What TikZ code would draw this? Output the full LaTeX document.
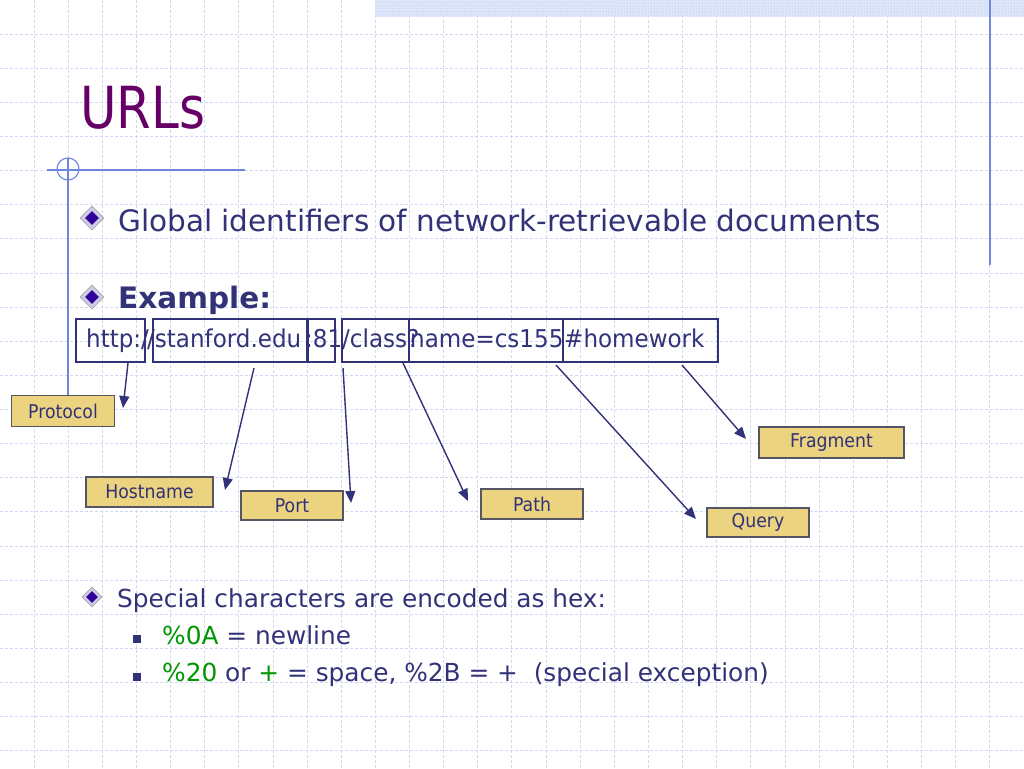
\documentclass[tikz,border=0pt]{standalone}
\usepackage{fontspec}
\setmainfont{DejaVu Sans}
\newfontfamily\titlefont{DejaVu Sans}[FakeStretch=0.86]
\newfontfamily\narrowfont{DejaVu Sans}[FakeStretch=0.91]
\newfontfamily\urlfont{DejaVu Sans}[FakeStretch=0.94]
\usetikzlibrary{arrows.meta,shapes.geometric,patterns}
\definecolor{navy}{RGB}{50,50,120}
\definecolor{ttl}{RGB}{102,0,102}
\definecolor{grn}{RGB}{0,150,0}
\definecolor{gridc}{RGB}{210,216,244}
\definecolor{deco}{RGB}{110,135,220}
\definecolor{labfill}{RGB}{235,211,128}
\definecolor{labdraw}{RGB}{85,85,100}
\definecolor{band}{RGB}{222,230,250}
\definecolor{dinner}{RGB}{51,0,153}
\definecolor{douter}{RGB}{205,205,232}
\tikzset{
  gridline/.style={gridc, line width=1pt, dash pattern=on 3pt off 2pt},
  decoline/.style={deco, line width=1.1pt},
  urlbox/.style={draw=navy, line width=1.2pt, inner sep=0pt},
  urltxt/.style={navy, anchor=base west, inner sep=0pt, font=\urlfont\fontsize{24.5}{25}\selectfont},
  lab/.style={draw=labdraw, fill=labfill, line width=1.3pt, inner sep=0pt, text=navy, font=\narrowfont\fontsize{19}{19}\selectfont},
  arr/.style={navy, line width=1.4pt, -{Triangle[length=12pt,width=10pt]}},
  bout/.style={diamond, draw=gray!70, fill=douter, line width=0.8pt, inner sep=0pt, minimum size=#1},
  bin/.style={diamond, fill=dinner, inner sep=0pt, minimum size=#1},
  sq/.style={fill=navy, inner sep=0pt, minimum size=8pt},
  body/.style={navy, anchor=base west, inner sep=0pt}
}
\begin{document}
\begin{tikzpicture}[x=1pt,y=-1pt]
\useasboundingbox (0,0) rectangle (1024,768);
\fill[white] (0,0) rectangle (1024,768);
% grid
\foreach \k in {1,...,29} \draw[gridline] ({34.13*\k},0) -- ({34.13*\k},768);
\foreach \k in {1,...,22} \draw[gridline] (0,{34.13*\k}) -- (1024,{34.13*\k});
% top band
\fill[band] (375,0) rectangle (1024,17);
\fill[pattern=dots, pattern color=deco!60] (375,0) rectangle (1024,17);
\draw[decoline] (990,0) -- (990,265);
% left decoration
\draw[decoline] (47,170) -- (245,170);
\draw[decoline] (68,169) circle[radius=11];
\draw[decoline] (68,158) -- (68,395);
% title
\node[ttl, anchor=base west, inner sep=0pt, font=\titlefont\fontsize{58}{58}\selectfont] (title) at (80,128) {URLs};
% bullets
\node[bout=24pt] (d1) at (92,218) {};
\node[bin=14pt] (d1i) at (d1) {};
\node[body, font=\fontsize{29.5}{30}\selectfont] (t1) at (118,231) {Global identifiers of network-retrievable documents};
\node[bout=24pt] (d2) at (92,297) {};
\node[bin=14pt] (d2i) at (d2) {};
\node[body, font=\fontsize{29.5}{30}\selectfont\bfseries] (t2) at (118,308) {Example:};
% URL boxes
\node[urlbox, minimum width=69pt, minimum height=43pt] (b1) at (110.5,340.5) {};
\node[urlbox, minimum width=154pt, minimum height=43pt] (b2) at (230,340.5) {};
\node[urlbox, minimum width=27pt, minimum height=43pt] (b3) at (321.5,340.5) {};
\node[urlbox, minimum width=67pt, minimum height=43pt] (b4) at (375.5,340.5) {};
\node[urlbox, minimum width=154pt, minimum height=43pt] (b5) at (486,340.5) {};
\node[urlbox, minimum width=155pt, minimum height=43pt] (b6) at (640.5,340.5) {};
% URL text
\node[urltxt] (u1) at (86,347) {http:/};
\node[urltxt] (u2) at (147,347) {/stanford.edu};
\node[urltxt] (u3) at (305,347) {:81};
\node[urltxt] (u4) at (342,347) {/class?};
\node[urltxt] (u5) at (410,347) {name=cs155};
\node[urltxt] (u6) at (564,347) {\#homework};
% labels
\node[lab, minimum width=103pt, minimum height=31pt] (protocol) at (63,411) {Protocol};
\node[lab, minimum width=127pt, minimum height=30pt] (hostname) at (149.5,492) {Hostname};
\node[lab, minimum width=102pt, minimum height=29pt] (port) at (292,505.5) {Port};
\node[lab, minimum width=102pt, minimum height=30pt] (path) at (532,504) {Path};
\node[lab, minimum width=102pt, minimum height=29pt] (query) at (758,522.5) {Query};
\node[lab, minimum width=145pt, minimum height=31pt] (fragment) at (831.5,442.5) {Fragment};
% arrow ends
\coordinate (s1) at (128,363);
\coordinate (e1) at (123,408);
\coordinate (s2) at (254,368);
\coordinate (e2) at (225,490);
\coordinate (s3) at (343,368);
\coordinate (e3) at (351,503);
\coordinate (s4) at (403,363);
\coordinate (e4) at (468,501);
\coordinate (s5) at (556,365);
\coordinate (e5) at (696,519);
\coordinate (s6) at (682,365);
\coordinate (e6) at (746,439);
\draw[arr] (s1) -- (e1);
\draw[arr] (s2) -- (e2);
\draw[arr] (s3) -- (e3);
\draw[arr] (s4) -- (e4);
\draw[arr] (s5) -- (e5);
\draw[arr] (s6) -- (e6);
% third bullet
\node[bout=20pt] (d3) at (92,597) {};
\node[bin=12pt] (d3i) at (d3) {};
\node[body, font=\fontsize{24.8}{25}\selectfont] (t3) at (117,607) {Special characters are encoded as hex:};
\node[sq] (q1) at (137,639) {};
\node[body, font=\fontsize{24.8}{25}\selectfont] (t4) at (162,644) {\textcolor{grn}{\%0A} = newline};
\node[sq] (q2) at (137,677) {};
\node[body, font=\fontsize{24.8}{25}\selectfont] (t5) at (162,681) {\textcolor{grn}{\%20} or \textcolor{grn}{+} = space, \%2B = +\ \ (special exception)};
\end{tikzpicture}
\end{document}
